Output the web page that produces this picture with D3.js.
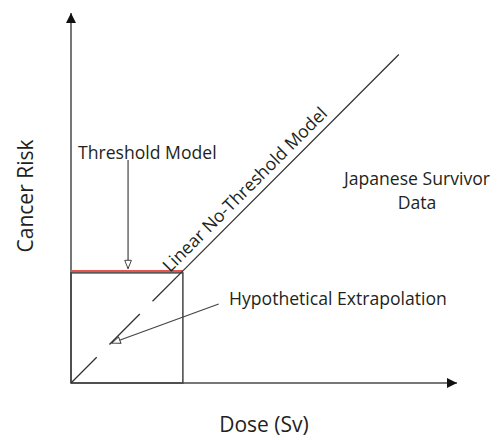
<!DOCTYPE html>
<html>
<head>
<meta charset="utf-8">
<script src="https://cdn.jsdelivr.net/npm/d3@7"></script>
<style>
  body { margin: 0; background: #fff; }
  text { font-family: "Open Sans", sans-serif; fill: #231f20; }
</style>
</head>
<body>
<svg id="chart"></svg>
<script>
// dose / risk in threshold units (1 = threshold dose)
const thresholdDose = 1;
const thresholdRisk = 1;
const lntPoints = [[1, 1], [2.93, 2.93]];
const extrapolationPoints = [[0, 0], [1, 1]];
const thresholdPoints = [[0, 1], [1, 1]];
const axisLabels = ["Dose (Sv)", "Cancer Risk"];
const notes = ["Threshold Model", "Linear No-Threshold Model", "Hypothetical Extrapolation", "Japanese Survivor", "Data"];

let width = 502,
height = 440;

let x = d3.scaleLinear().domain([0, 3.45]).range([71, 457]);
let y = d3.scaleLinear().domain([0, 3.3]).range([383, 13]);

let line = d3.line().x(d => x(d[0])).y(d => y(d[1]));

let svg = d3.select("#chart")
  .attr("width", width)
  .attr("height", height);

let defs = svg.append("defs");
defs.append("marker")
  .attr("id", "solidHead")
  .attr("viewBox", "0 0 10 10")
  .attr("refX", 10).attr("refY", 5)
  .attr("markerWidth", 10).attr("markerHeight", 10)
  .attr("markerUnits", "userSpaceOnUse")
  .attr("orient", "auto")
  .append("path")
  .attr("d", "M0,0L10,5L0,10Z")
  .attr("fill", "#111");

defs.append("marker")
  .attr("id", "openHead")
  .attr("viewBox", "-1 -1 12 12")
  .attr("refX", 10).attr("refY", 5)
  .attr("markerWidth", 10).attr("markerHeight", 10)
  .attr("markerUnits", "userSpaceOnUse")
  .attr("orient", "auto")
  .append("path")
  .attr("d", "M0,1L10,5L0,9Z")
  .attr("fill", "#fff")
  .attr("stroke", "#333")
  .attr("stroke-width", 1.1);

// axes
svg.append("line")
  .attr("x1", x(0)).attr("y1", y(0))
  .attr("x2", x(0)).attr("y2", y(3.3))
  .attr("stroke", "#777").attr("stroke-width", 2)
  .attr("marker-end", "url(#solidHead)");

svg.append("line")
  .attr("x1", x(0)).attr("y1", y(0))
  .attr("x2", x(3.45)).attr("y2", y(0))
  .attr("stroke", "#777").attr("stroke-width", 2)
  .attr("marker-end", "url(#solidHead)");

// threshold box
svg.append("rect")
  .attr("x", x(0)).attr("y", y(thresholdRisk) + 2)
  .attr("width", x(thresholdDose) - x(0))
  .attr("height", y(0) - y(thresholdRisk) - 2)
  .attr("fill", "none")
  .attr("stroke", "#444").attr("stroke-width", 1.5);

svg.append("path")
  .datum(thresholdPoints)
  .attr("d", line)
  .attr("fill", "none")
  .attr("stroke", "#e8544e").attr("stroke-width", 2);

// LNT solid line and dashed extrapolation
svg.append("path")
  .datum(lntPoints)
  .attr("d", line)
  .attr("fill", "none")
  .attr("stroke", "#333").attr("stroke-width", 1.3);

svg.append("path")
  .datum(extrapolationPoints.slice().reverse())
  .attr("d", line)
  .attr("fill", "none")
  .attr("stroke", "#333").attr("stroke-width", 1.3)
  .attr("stroke-dasharray", "43,18");

// annotation arrows
svg.append("line")
  .attr("x1", x(0.51)).attr("y1", y(1.99))
  .attr("x2", x(0.51)).attr("y2", y(1.02))
  .attr("stroke", "#444").attr("stroke-width", 1.2)
  .attr("marker-end", "url(#openHead)");

svg.append("line")
  .attr("x1", x(1.32)).attr("y1", y(0.705))
  .attr("x2", x(0.366)).attr("y2", y(0.357))
  .attr("stroke", "#444").attr("stroke-width", 1.2)
  .attr("marker-end", "url(#openHead)");

// labels
svg.append("text")
  .attr("x", 264).attr("y", 432)
  .attr("text-anchor", "middle")
  .attr("font-size", 21)
  .text(axisLabels[0]);

svg.append("text")
  .attr("transform", "translate(33,196) rotate(-90)")
  .attr("text-anchor", "middle")
  .attr("font-size", 21)
  .text(axisLabels[1]);

let noteSize = 17.6;

svg.append("text")
  .attr("x", 78).attr("y", 159)
  .attr("font-size", noteSize)
  .text(notes[0]);

svg.append("text")
  .attr("transform", "translate(170,273) rotate(-45)")
  .attr("font-size", noteSize)
  .text(notes[1]);

svg.append("text")
  .attr("x", 229).attr("y", 305)
  .attr("font-size", noteSize)
  .text(notes[2]);

svg.append("text")
  .attr("x", 417).attr("y", 185)
  .attr("text-anchor", "middle")
  .attr("font-size", noteSize)
  .text(notes[3]);

svg.append("text")
  .attr("x", 417).attr("y", 209)
  .attr("text-anchor", "middle")
  .attr("font-size", noteSize)
  .text(notes[4]);
</script>
</body>
</html>
